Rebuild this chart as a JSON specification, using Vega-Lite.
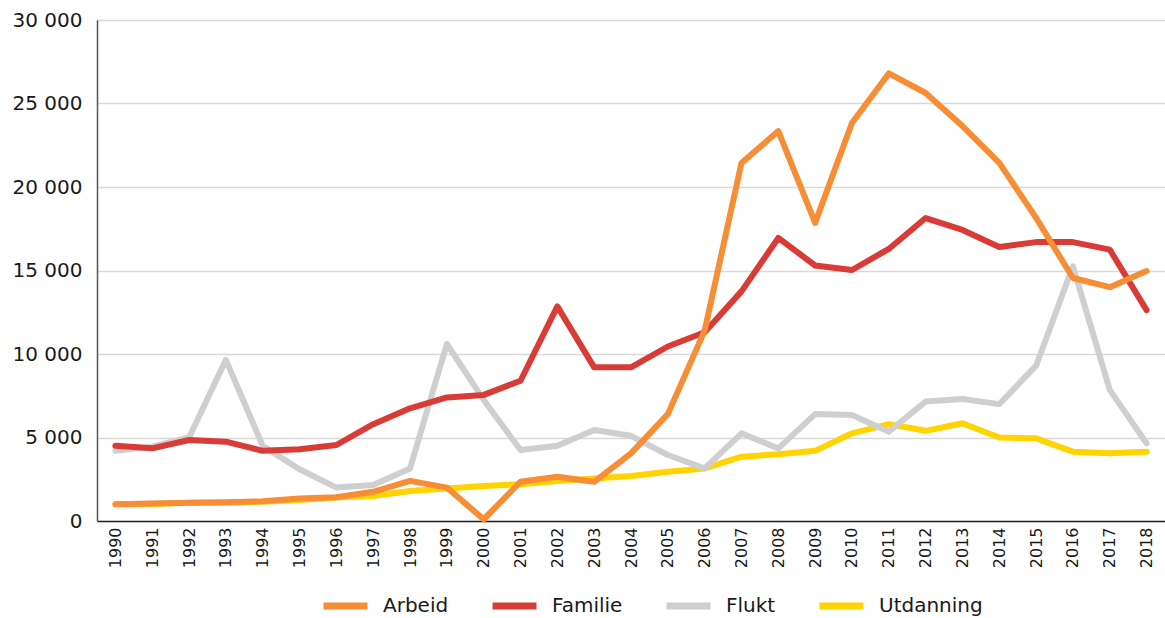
{
  "$schema": "https://vega.github.io/schema/vega-lite/v6.json",
  "width": 1068,
  "height": 501,
  "autosize": {"type": "none"},
  "padding": {"top": 20, "left": 97, "right": 0, "bottom": 97},
  "background": "white",
  "data": {
    "values": [
      {"year": "1990", "series": "Utdanning", "value": 1000},
      {"year": "1991", "series": "Utdanning", "value": 1020},
      {"year": "1992", "series": "Utdanning", "value": 1100},
      {"year": "1993", "series": "Utdanning", "value": 1100},
      {"year": "1994", "series": "Utdanning", "value": 1150},
      {"year": "1995", "series": "Utdanning", "value": 1250},
      {"year": "1996", "series": "Utdanning", "value": 1400},
      {"year": "1997", "series": "Utdanning", "value": 1500},
      {"year": "1998", "series": "Utdanning", "value": 1800},
      {"year": "1999", "series": "Utdanning", "value": 1950},
      {"year": "2000", "series": "Utdanning", "value": 2100},
      {"year": "2001", "series": "Utdanning", "value": 2200},
      {"year": "2002", "series": "Utdanning", "value": 2400},
      {"year": "2003", "series": "Utdanning", "value": 2550},
      {"year": "2004", "series": "Utdanning", "value": 2700},
      {"year": "2005", "series": "Utdanning", "value": 2950},
      {"year": "2006", "series": "Utdanning", "value": 3150},
      {"year": "2007", "series": "Utdanning", "value": 3850},
      {"year": "2008", "series": "Utdanning", "value": 4000},
      {"year": "2009", "series": "Utdanning", "value": 4200},
      {"year": "2010", "series": "Utdanning", "value": 5250},
      {"year": "2011", "series": "Utdanning", "value": 5800},
      {"year": "2012", "series": "Utdanning", "value": 5400},
      {"year": "2013", "series": "Utdanning", "value": 5850},
      {"year": "2014", "series": "Utdanning", "value": 5000},
      {"year": "2015", "series": "Utdanning", "value": 4950},
      {"year": "2016", "series": "Utdanning", "value": 4150},
      {"year": "2017", "series": "Utdanning", "value": 4050},
      {"year": "2018", "series": "Utdanning", "value": 4150},
      {"year": "1990", "series": "Flukt", "value": 4200},
      {"year": "1991", "series": "Flukt", "value": 4450},
      {"year": "1992", "series": "Flukt", "value": 5000},
      {"year": "1993", "series": "Flukt", "value": 9650},
      {"year": "1994", "series": "Flukt", "value": 4500},
      {"year": "1995", "series": "Flukt", "value": 3100},
      {"year": "1996", "series": "Flukt", "value": 2000},
      {"year": "1997", "series": "Flukt", "value": 2150},
      {"year": "1998", "series": "Flukt", "value": 3150},
      {"year": "1999", "series": "Flukt", "value": 10600},
      {"year": "2000", "series": "Flukt", "value": 7250},
      {"year": "2001", "series": "Flukt", "value": 4250},
      {"year": "2002", "series": "Flukt", "value": 4500},
      {"year": "2003", "series": "Flukt", "value": 5450},
      {"year": "2004", "series": "Flukt", "value": 5100},
      {"year": "2005", "series": "Flukt", "value": 3950},
      {"year": "2006", "series": "Flukt", "value": 3150},
      {"year": "2007", "series": "Flukt", "value": 5250},
      {"year": "2008", "series": "Flukt", "value": 4350},
      {"year": "2009", "series": "Flukt", "value": 6400},
      {"year": "2010", "series": "Flukt", "value": 6350},
      {"year": "2011", "series": "Flukt", "value": 5350},
      {"year": "2012", "series": "Flukt", "value": 7150},
      {"year": "2013", "series": "Flukt", "value": 7300},
      {"year": "2014", "series": "Flukt", "value": 7000},
      {"year": "2015", "series": "Flukt", "value": 9300},
      {"year": "2016", "series": "Flukt", "value": 15250},
      {"year": "2017", "series": "Flukt", "value": 7850},
      {"year": "2018", "series": "Flukt", "value": 4650},
      {"year": "1990", "series": "Familie", "value": 4500},
      {"year": "1991", "series": "Familie", "value": 4350},
      {"year": "1992", "series": "Familie", "value": 4850},
      {"year": "1993", "series": "Familie", "value": 4750},
      {"year": "1994", "series": "Familie", "value": 4200},
      {"year": "1995", "series": "Familie", "value": 4300},
      {"year": "1996", "series": "Familie", "value": 4550},
      {"year": "1997", "series": "Familie", "value": 5800},
      {"year": "1998", "series": "Familie", "value": 6750},
      {"year": "1999", "series": "Familie", "value": 7400},
      {"year": "2000", "series": "Familie", "value": 7550},
      {"year": "2001", "series": "Familie", "value": 8400},
      {"year": "2002", "series": "Familie", "value": 12850},
      {"year": "2003", "series": "Familie", "value": 9200},
      {"year": "2004", "series": "Familie", "value": 9200},
      {"year": "2005", "series": "Familie", "value": 10450},
      {"year": "2006", "series": "Familie", "value": 11300},
      {"year": "2007", "series": "Familie", "value": 13750},
      {"year": "2008", "series": "Familie", "value": 16950},
      {"year": "2009", "series": "Familie", "value": 15300},
      {"year": "2010", "series": "Familie", "value": 15030},
      {"year": "2011", "series": "Familie", "value": 16290},
      {"year": "2012", "series": "Familie", "value": 18140},
      {"year": "2013", "series": "Familie", "value": 17430},
      {"year": "2014", "series": "Familie", "value": 16410},
      {"year": "2015", "series": "Familie", "value": 16700},
      {"year": "2016", "series": "Familie", "value": 16700},
      {"year": "2017", "series": "Familie", "value": 16250},
      {"year": "2018", "series": "Familie", "value": 12630},
      {"year": "1990", "series": "Arbeid", "value": 1000},
      {"year": "1991", "series": "Arbeid", "value": 1050},
      {"year": "1992", "series": "Arbeid", "value": 1100},
      {"year": "1993", "series": "Arbeid", "value": 1120},
      {"year": "1994", "series": "Arbeid", "value": 1180},
      {"year": "1995", "series": "Arbeid", "value": 1350},
      {"year": "1996", "series": "Arbeid", "value": 1420},
      {"year": "1997", "series": "Arbeid", "value": 1750},
      {"year": "1998", "series": "Arbeid", "value": 2400},
      {"year": "1999", "series": "Arbeid", "value": 2000},
      {"year": "2000", "series": "Arbeid", "value": 100},
      {"year": "2001", "series": "Arbeid", "value": 2350},
      {"year": "2002", "series": "Arbeid", "value": 2650},
      {"year": "2003", "series": "Arbeid", "value": 2350},
      {"year": "2004", "series": "Arbeid", "value": 4050},
      {"year": "2005", "series": "Arbeid", "value": 6400},
      {"year": "2006", "series": "Arbeid", "value": 11400},
      {"year": "2007", "series": "Arbeid", "value": 21440},
      {"year": "2008", "series": "Arbeid", "value": 23350},
      {"year": "2009", "series": "Arbeid", "value": 17850},
      {"year": "2010", "series": "Arbeid", "value": 23830},
      {"year": "2011", "series": "Arbeid", "value": 26800},
      {"year": "2012", "series": "Arbeid", "value": 25630},
      {"year": "2013", "series": "Arbeid", "value": 23650},
      {"year": "2014", "series": "Arbeid", "value": 21440},
      {"year": "2015", "series": "Arbeid", "value": 18150},
      {"year": "2016", "series": "Arbeid", "value": 14550},
      {"year": "2017", "series": "Arbeid", "value": 14000},
      {"year": "2018", "series": "Arbeid", "value": 14970}
    ]
  },
  "mark": {"type": "line", "strokeWidth": 6, "strokeCap": "round", "strokeJoin": "round"},
  "encoding": {
    "x": {
      "field": "year",
      "type": "ordinal",
      "scale": {"type": "point", "padding": 0.5},
      "axis": {
        "title": null,
        "labelAngle": -90,
        "labelFontSize": 16,
        "labelPadding": 6,
        "ticks": false,
        "domainColor": "#222222",
        "domainWidth": 1.5,
        "grid": false
      }
    },
    "y": {
      "field": "value",
      "type": "quantitative",
      "scale": {"domain": [0, 30000], "nice": false},
      "axis": {
        "title": null,
        "values": [0, 5000, 10000, 15000, 20000, 25000, 30000],
        "labelExpr": "replace(format(datum.value, ','), ',', ' ')",
        "labelFontSize": 20,
        "labelPadding": 15,
        "ticks": false,
        "domain": true,
        "domainColor": "#555555",
        "domainWidth": 1.5,
        "gridColor": "#d9d9d9",
        "gridWidth": 1.5
      }
    },
    "color": {
      "field": "series",
      "type": "nominal",
      "scale": {
        "domain": ["Arbeid", "Familie", "Flukt", "Utdanning"],
        "range": ["#F78D34", "#D93C37", "#CFCFCF", "#FFD400"]
      },
      "legend": {
        "title": null,
        "orient": "none",
        "legendX": 223,
        "legendY": 574,
        "padding": 0,
        "clipHeight": 24,
        "direction": "horizontal",
        "symbolType": "stroke",
        "symbolSize": 1936,
        "symbolStrokeWidth": 7,
        "labelFontSize": 20,
        "labelOffset": 12,
        "columnPadding": 40
      }
    }
  },
  "config": {
    "font": "DejaVu Sans",
    "view": {"stroke": null},
    "axis": {"labelColor": "#1a1a1a", "labelFont": "DejaVu Sans"},
    "legend": {"labelColor": "#1a1a1a", "labelFont": "DejaVu Sans"}
  }
}
